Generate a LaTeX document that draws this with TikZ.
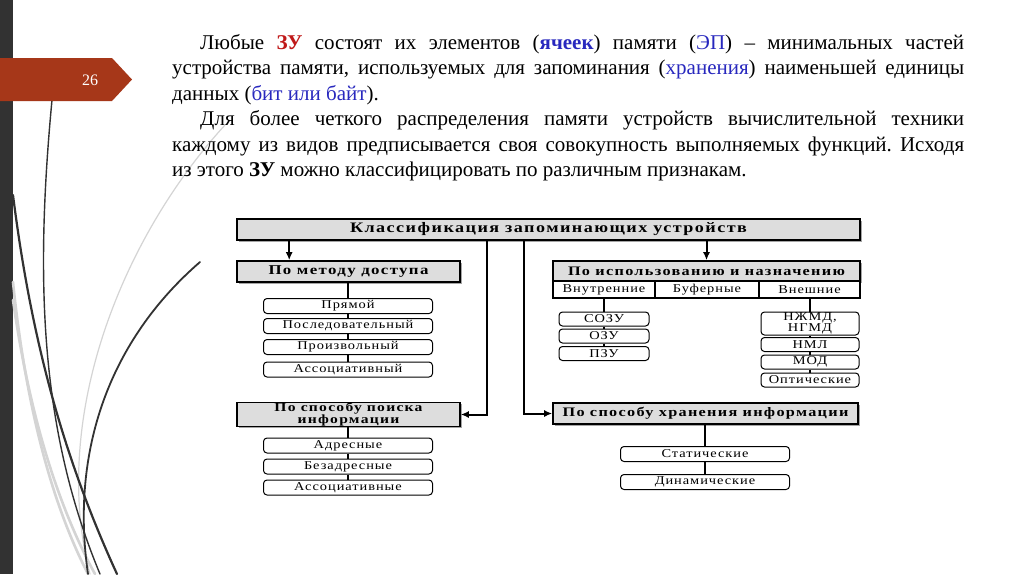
\documentclass[tikz,border=0pt]{standalone}
\usepackage{fontspec}
\setmainfont{Liberation Serif}
\newfontfamily\diagfont[FakeStretch=1.2,LetterSpace=8]{Liberation Serif}
\newfontfamily\headfont[FakeStretch=1.25,LetterSpace=10]{Liberation Serif}
\usetikzlibrary{arrows.meta,shadows}
\definecolor{bar}{RGB}{50,50,50}
\definecolor{tab}{RGB}{166,55,25}
\definecolor{zured}{RGB}{192,25,25}
\definecolor{cellblue}{RGB}{40,40,190}
\definecolor{headgray}{RGB}{221,221,221}
\definecolor{curvegray}{RGB}{212,212,212}
\tikzset{
  >={Latex[length=8pt,width=7pt]},
  head/.style={draw,line width=1.6pt,fill=headgray,inner sep=0pt,align=center,
    font=\headfont\fontsize{13}{10}\selectfont\bfseries,
    drop shadow={shadow xshift=1.8pt,shadow yshift=-1.8pt,opacity=0.7}},
  cell/.style={draw,line width=1.3pt,fill=white,minimum height=17,inner sep=0pt,
    font=\diagfont\fontsize{12}{11}\selectfont},
  item/.style={draw,line width=1pt,rounded corners=3.5pt,fill=white,minimum height=15,
    inner sep=0pt,align=center,font=\diagfont\fontsize{12}{9.5}\selectfont},
  flow/.style={->,line width=2pt},
  link/.style={line width=1.1pt},
  swoosh/.style={line width=#1,line cap=round},
}
\begin{document}
\begin{tikzpicture}[x=1pt,y=-1pt]
  \useasboundingbox[fill=white] (0,0) rectangle (1024,574);
  % left decoration
  \fill[bar] (0,0) rectangle (13,574);
  \draw[curvegray,swoosh=2.6pt] (13,282) .. controls (25,400) and (50,500) .. (88,574);
  \draw[curvegray,swoosh=2.6pt] (13,300) .. controls (30,420) and (60,510) .. (95,574);
  \draw[curvegray,swoosh=1.2pt] (225,125) .. controls (120,240) and (50,420) .. (90,574);
  \draw[bar,swoosh=1.4pt] (52,100) .. controls (35,280) and (40,430) .. (100,574);
  \draw[bar,swoosh=2.2pt] (13,195) .. controls (30,330) and (60,450) .. (117,574);
  \draw[bar,swoosh=1.8pt] (200,262) .. controls (110,340) and (70,450) .. (88,574);
  \fill[tab] (0,58) -- (112,58) -- (132,79.5) -- (112,101) -- (0,101) -- cycle;
  \node[text=white,font=\fontsize{16}{16}\selectfont] (num) at (90,80) {26};

  % text
  \node[anchor=north west,inner sep=0pt,text width=792pt,align=justify,
    font=\fontsize{21}{25.5}\selectfont\frenchspacing] (txt) at (172,34) {%
    \hspace*{28pt}Любые \textcolor{zured}{\textbf{ЗУ}} состоят их элементов
    (\textcolor{cellblue}{\textbf{ячеек}}) памяти (\textcolor{cellblue}{ЭП}) –
    минимальных частей\linebreak устройства памяти, используемых для запоминания
    (\textcolor{cellblue}{хранения}) наименьшей единицы\linebreak данных
    (\textcolor{cellblue}{бит или байт}).\par
    \hspace*{28pt}Для более четкого распределения памяти устройств вычислительной
    техники\linebreak каждому из видов предписывается своя совокупность выполняемых
    функций. Исходя\linebreak из этого \textbf{ЗУ} можно классифицировать по
    различным признакам.};

  % diagram
  \node[head,minimum width=623,minimum height=21,font=\headfont\fontsize{14.5}{10}\selectfont\bfseries]
    (cls) at (548.5,229.5) {Классификация запоминающих устройств};
  \node[head,minimum width=223,minimum height=21,font=\headfont\fontsize{13.5}{10}\selectfont\bfseries]
    (dostup) at (348.5,271.5) {По методу доступа};
  \node[head,minimum width=223,minimum height=23,font=\headfont\fontsize{12.5}{10}\selectfont\bfseries]
    (poisk) at (348.5,414.5) {По способу поиска\\информации};
  \node[head,minimum width=307,minimum height=20] (ispolz) at (706.5,271)
    {По использованию и назначению};
  \node[head,minimum width=305,minimum height=21] (hran) at (705.5,413.5)
    {По способу хранения информации};
  \node[cell,minimum width=102] (vnutr) at (604,289.5) {Внутренние};
  \node[cell,minimum width=104] (bufer) at (707,289.5) {Буферные};
  \node[cell,minimum width=101] (vnesh) at (809.5,289.5) {Внешние};

  \foreach \n/\y/\t in {d1/306/Прямой,d2/326/Последовательный,
      d3/347/Произвольный,d4/369.5/Ассоциативный,
      p1/445.5/Адресные,p2/466.5/Безадресные,p3/487.5/Ассоциативные}
    \node[item,minimum width=169] (\n) at (348,\y) {\t};
  \foreach \n/\y/\t in {v1/319/СОЗУ,v2/336/ОЗУ,v3/353.5/ПЗУ}
    \node[item,minimum width=90,minimum height=14] (\n) at (604,\y) {\t};
  \node[item,minimum width=98,minimum height=23] (e1) at (810,323.5) {НЖМД,\\НГМД};
  \foreach \n/\y/\t in {e2/344.5/НМЛ,e3/362/МОД,e4/380/Оптические}
    \node[item,minimum width=98,minimum height=14] (\n) at (810,\y) {\t};
  \foreach \n/\y/\t in {h1/454/Статические,h2/482/Динамические}
    \node[item,minimum width=169] (\n) at (705,\y) {\t};

  % links
  \foreach \a/\b in {dostup/d1,d1/d2,d2/d3,d3/d4,poisk/p1,p1/p2,p2/p3,
      vnutr/v1,v1/v2,v2/v3,vnesh/e1,e1/e2,e2/e3,e3/e4,hran/h1,h1/h2}
    \draw[link] (\a.south -| \b) -- (\b.north);

  % arrows
  \path (dostup.north west) ++(53,0) coordinate (dA);
  \coordinate (kL) at (487,0);
  \coordinate (kR) at (524,0);
  \draw[flow] (cls.south -| dA) -- (dA);
  \draw[flow] (cls.south -| ispolz) -- (ispolz.north);
  \draw[flow] (cls.south -| kL) |- (poisk.east);
  \draw[flow] (cls.south -| kR) |- (hran.west);
\end{tikzpicture}
\end{document}
